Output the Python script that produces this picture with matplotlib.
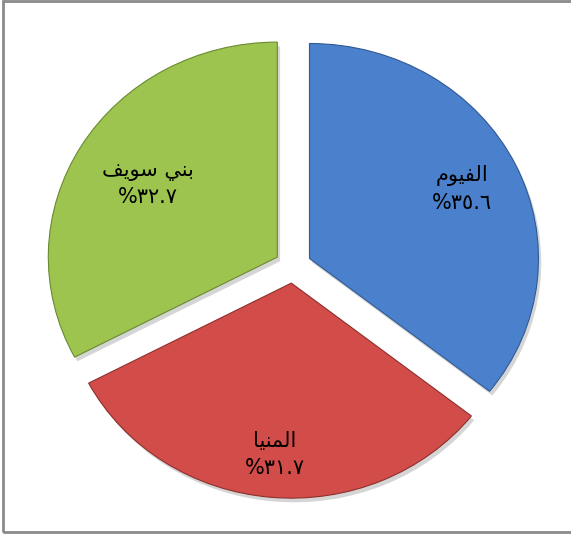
import matplotlib
matplotlib.use("Agg")
import matplotlib.pyplot as plt
import matplotlib.patheffects as pe
import numpy as np
from matplotlib.patches import Rectangle

# Arabic names written in presentation forms, visual (left-to-right) order,
# because matplotlib does not shape right-to-left text itself.
names = [
    "\ufee1\ufeee\ufef4\ufed4\ufedf\ufe8d",                       # الفيوم
    "\ufe8e\ufef4\ufee8\ufee4\ufedf\ufe8d",                       # المنيا
    "\ufed2\ufef3\ufeee\ufeb3 \ufef2\ufee8\ufe91",                # بني سويف
]
shares = [35.6, 31.7, 32.7]
share_labels = ["%\u0663\u0665.\u0666", "%\u0663\u0661.\u0667", "%\u0663\u0662.\u0667"]
colors = ["#4a80cc", "#d24d49", "#9cc44e"]
edges = ["#2f5a94", "#8e2f2c", "#6a8a30"]
label_dist = [0.74, 0.80, 0.66]

fig = plt.figure(figsize=(5.71, 5.35), dpi=100)
ax = fig.add_axes([0, 0, 1, 1])

wedges, _ = ax.pie(shares, colors=colors, startangle=90, counterclock=False,
                   explode=[0.08] * 3, wedgeprops=dict(linewidth=0.8))
for w, ec in zip(wedges, edges):
    w.set_edgecolor(ec)
    w.set_path_effects([pe.SimplePatchShadow(offset=(2, -3), shadow_rgbFace="#888888", alpha=0.35),
                        pe.Normal()])

for w, name, pct, d in zip(wedges, names, share_labels, label_dist):
    theta = np.deg2rad((w.theta1 + w.theta2) / 2)
    x = w.center[0] + d * np.cos(theta)
    y = w.center[1] + d * np.sin(theta)
    ax.text(x, y, name + "\n" + pct, ha="center", va="center", fontsize=15,
            family="DejaVu Sans", linespacing=1.4, color="black")

# slightly flattened pie, as in the original
ax.set_aspect("auto")
ax.set_xlim(-293 / 229, (571 - 293) / 229)
ax.set_ylim(-(535 - 266) / 215, 266 / 215)
ax.axis("off")

fig.patches.append(Rectangle((3 / 571, 3 / 535), 1.0, 531 / 535, transform=fig.transFigure,
                             fill=False, edgecolor="#8a8a8a", linewidth=2))

fig.savefig("out.png", dpi=100)
